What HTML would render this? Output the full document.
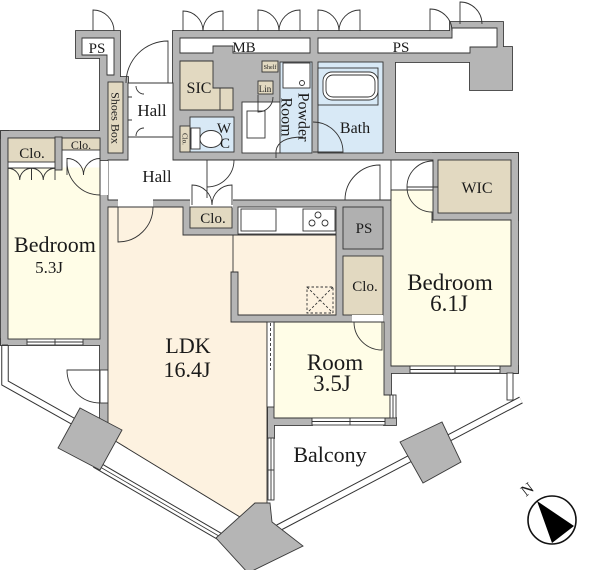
<!DOCTYPE html>
<html><head><meta charset="utf-8">
<style>
html,body{margin:0;padding:0;background:#fff;}
svg{display:block;}
text{font-family:"Liberation Serif",serif;fill:#1a1a1a;}
</style></head><body>
<svg width="600" height="570" viewBox="0 0 600 570" xmlns="http://www.w3.org/2000/svg">
<defs>
<g id="walls">
 <polygon points="76,31 120,31 120,77 128,77 128,160 100,160 100,58 76,58"/>
 <rect x="1" y="131" width="107" height="7"/>
 <rect x="1" y="131" width="7" height="214"/>
 <rect x="1" y="339" width="107" height="6"/>
 <rect x="100" y="195" width="8" height="227"/>
 <polygon points="173,31 450,31 450,22 503,22 503,47 512,47 512,90 470,90 470,62 395,62 395,153 518,153 518,160 173,160"/>
 <rect x="511" y="153" width="7" height="220"/>
 <rect x="383" y="366" width="135" height="7"/>
 <rect x="433" y="153" width="85" height="67"/>
 <rect x="100" y="200" width="291" height="7"/>
 <rect x="383" y="198" width="8" height="197"/>
 <rect x="336" y="200" width="55" height="122"/>
 <rect x="183" y="200" width="55" height="35"/>
 <rect x="231" y="272" width="7" height="50"/>
 <rect x="231" y="315" width="112" height="7"/>
 <rect x="268" y="407" width="6" height="31"/>
 <rect x="268" y="418" width="44" height="7"/>
 <rect x="384" y="418" width="12" height="7"/>
</g>
</defs>

<g fill="none" stroke-linecap="butt">
 <polyline points="5,345 5,383 78,424" stroke="#333" stroke-width="7.5"/>
 <polyline points="5,345 5,383 78,424" stroke="#fff" stroke-width="5.5"/>
 <line x1="95" y1="464" x2="224" y2="539" stroke="#333" stroke-width="8"/>
 <line x1="95" y1="464" x2="224" y2="539" stroke="#fff" stroke-width="6"/>
 <line x1="95" y1="464" x2="224" y2="539" stroke="#333" stroke-width="0.8"/>
 <line x1="278" y1="528" x2="521" y2="400" stroke="#333" stroke-width="7.5"/>
 <line x1="278" y1="528" x2="521" y2="400" stroke="#fff" stroke-width="5.5"/>
 <line x1="117" y1="442" x2="240" y2="517" stroke="#333" stroke-width="0.9"/>
</g>

<use href="#walls" fill="#b5b5b5" stroke="#3a3a3a" stroke-width="1.8"/>
<use href="#walls" fill="#b5b5b5" stroke="none"/>

<g stroke="#333" stroke-width="0.9">
 <polygon points="82,38 114,38 114,75 107,75 107,55 82,55" fill="#fff"/>
 <rect x="108" y="82" width="15" height="71" fill="#e2d9c1"/>
 <polygon points="128,83 173,83 173,160 433,160 433,190 391,190 391,200 108,200 108,160 128,160" fill="#fff"/>
 <rect x="100" y="161" width="8" height="34" fill="#fff" stroke="none"/>
 <rect x="118" y="199" width="35" height="9" fill="#fff" stroke="none"/>
 <rect x="190" y="199" width="43" height="9" fill="#fff" stroke="none"/>
 <rect x="100" y="370" width="8" height="33" fill="#fff"/>
 <polygon points="180,38 310,38 310,53 233,53 233,46 213,46 213,53 180,53" fill="#fff"/>
 <polygon points="318,38 452,38 452,28 497,28 497,47 470,47 470,53 318,53" fill="#fff"/>
 <polygon points="180,61 213,61 213,88 233,88 233,110 180,110" fill="#e2d9c1"/>
 <line x1="220" y1="88" x2="220" y2="110"/>
 <rect x="190" y="117" width="44" height="35" fill="#d8e9f6"/>
 <rect x="180" y="126" width="10" height="26" fill="#e2d9c1"/>
 <rect x="191" y="128" width="9" height="21" fill="#fff"/>
 <ellipse cx="211" cy="139" rx="11" ry="8.5" fill="#fff"/>
 <rect x="242" y="102" width="38" height="51" fill="#fff"/>
 <rect x="247" y="111" width="18" height="27" fill="#fff"/>
 <rect x="280" y="62" width="32" height="91" fill="#d8e9f6"/>
 <rect x="283" y="63" width="27" height="25" fill="#fff"/>
 <circle cx="302" cy="83" r="2.5" fill="#fff"/>
 <rect x="262" y="61" width="16" height="11" fill="#e2d9c1"/>
 <rect x="258" y="81" width="15" height="13" fill="#e2d9c1"/>
 <rect x="318" y="62" width="65" height="91" fill="#d8e9f6"/>
 <rect x="318" y="68" width="60" height="37" fill="#d8e9f6"/>
 <rect x="323" y="72" width="55" height="28" rx="9" fill="#fff"/>
 <rect x="326" y="75" width="49" height="22" rx="7" fill="#fff"/>
 <rect x="438" y="160" width="73" height="53" fill="#e2d9c1"/>
 <polygon points="391,190 433,190 433,220 511,220 511,366 391,366" fill="#fffde7"/>
 <line x1="391" y1="160" x2="391" y2="200"/>
 <rect x="8" y="138" width="92" height="201" fill="#fffde7"/>
 <rect x="8.5" y="138.5" width="91" height="29" fill="#fff" stroke="none"/>
 <rect x="8" y="138" width="47" height="24" fill="#e2d9c1"/>
 <rect x="62" y="138" width="38" height="12" fill="#e2d9c1"/>
 <rect x="55" y="137" width="7" height="33" fill="#b5b5b5"/>
 <line x1="8" y1="168" x2="55" y2="168"/>
 <polygon points="108,207 183,207 183,235 336,235 336,315 238,315 238,272 231,272 231,322 267,322 267,503 255,503 240,517 117,442 108,437" fill="#fdf2e0"/>
 <line x1="233" y1="235" x2="233" y2="272"/>
 <rect x="238" y="207" width="98" height="27" fill="#fff"/>
 <rect x="241" y="209" width="35" height="22" fill="#fff"/>
 <rect x="303" y="209" width="32" height="22" fill="#fff"/>
 <circle cx="318" cy="215" r="3" fill="#fff"/>
 <circle cx="312" cy="223" r="3" fill="#fff"/>
 <circle cx="325" cy="223" r="3" fill="#fff"/>
 <rect x="307" y="287" width="26" height="26" fill="none" stroke-dasharray="2.5,2"/>
 <path d="M307,287 L333,313 M333,287 L307,313" fill="none" stroke-dasharray="2.5,2"/>
 <rect x="190" y="207" width="42" height="21" fill="#e2d9c1"/>
 <rect x="343" y="207" width="40" height="42" fill="#b0b0b0"/>
 <rect x="343" y="256" width="40" height="59" fill="#e2d9c1"/>
 <rect x="352" y="315" width="31" height="7" fill="#fff" stroke="none"/>
 <polygon points="274,322 384,322 384,395 390,395 390,418 274,418" fill="#fffde7"/>
</g>

<g stroke="#333" stroke-width="0.9" fill="#fff">
 <rect x="27" y="339" width="56" height="6"/><line x1="27" y1="342" x2="83" y2="342"/><line x1="55" y1="339" x2="55" y2="345"/>
 <rect x="410" y="366" width="90" height="7"/><line x1="410" y1="369.5" x2="500" y2="369.5"/><line x1="455" y1="366" x2="455" y2="373"/>
 <rect x="312" y="418" width="73" height="7"/><line x1="312" y1="421.5" x2="385" y2="421.5"/><line x1="350" y1="418" x2="350" y2="425"/>
 <rect x="390" y="395" width="6" height="23"/><line x1="393" y1="395" x2="393" y2="418"/>
 <rect x="268" y="438" width="6" height="62"/><line x1="271" y1="438" x2="271" y2="500"/><line x1="268" y1="470" x2="274" y2="470"/>
 <rect x="507" y="373" width="6" height="27"/>
 <rect x="267" y="322" width="7" height="85"/>
 <line x1="270.5" y1="323" x2="270.5" y2="370" stroke-dasharray="3,2"/>
 <line x1="2" y1="345" x2="8" y2="345"/>
</g>

<g stroke="#333" stroke-width="0.9" fill="none">
 <path d="M93,31 V10 A21,21 0 0,1 114,31"/>
 <path d="M168,83 V41 A42,42 0 0,0 126,83"/>
 <line x1="128" y1="137" x2="173" y2="137"/>
 <path d="M128,97 h4 M128,120 h4 M136,86 a8,8 0 0,0 8,8 M136,136 a8,8 0 0,1 8,-8"/>
 <path d="M183,31 V11 A20,20 0 0,1 203,31 M223,31 V11 A20,20 0 0,0 203,31"/>
 <path d="M258,31 V10 A21,21 0 0,1 279,31 M300,31 V10 A21,21 0 0,0 279,31"/>
 <path d="M318,31 V10 A21,21 0 0,1 339,31 M360,31 V10 A21,21 0 0,0 339,31"/>
 <path d="M430,31 V9 A22,22 0 0,1 452,31"/>
 <path d="M460,24 V2 A22,22 0 0,1 482,24"/>
 <path d="M118,207 V242 A35,35 0 0,0 153,207"/>
 <path d="M207,160 V198 M207,187 A27,27 0 0,0 234,160"/>
 <path d="M192,205 V185 A20,20 0 0,1 212,205 M232,205 V185 A20,20 0 0,0 212,205"/>
 <path d="M67,175 V158.5 A16.5,16.5 0 0,1 83.5,175 M100,175 V158.5 A16.5,16.5 0 0,0 83.5,175"/>
 <path d="M8,180 V168.25 A11.75,11.75 0 0,1 19.75,180 M31.5,180 V168.25 A11.75,11.75 0 0,0 19.75,180"/>
 <path d="M31.5,180 V168.25 A11.75,11.75 0 0,1 43.25,180 M55,180 V168.25 A11.75,11.75 0 0,0 43.25,180"/>
 <path d="M100,162 V195 A33,33 0 0,1 67,162"/>
 <path d="M100,370 H67 A33,33 0 0,0 100,403"/>
 <path d="M380,200 V165 A35,35 0 0,0 345,200"/>
 <path d="M407,187 H438 M407,187 A25,25 0 0,0 432,212 V223 M433,161 A26,26 0 0,0 407,187"/>
 <path d="M382,322 V350 A28,28 0 0,1 354,322"/>
 <path d="M313,152 H343 A30,30 0 0,0 313,122"/>
 <path d="M276,158 V151 Q278,137 303,137"/>
 <path d="M258,95 V112 A15,15 0 0,0 273,97"/>
</g>

<g fill="#b5b5b5" stroke="#3a3a3a" stroke-width="0.9">
 <polygon points="58,448 80,408 122,430 100,470"/>
 <polygon points="400,442 442,422 461,462 423,483"/>
 <polygon points="216,538 255,503 270,503 272,522 303,546 248,573"/>
</g>

<g text-anchor="middle">
 <text x="97" y="53" font-size="15">PS</text>
 <text x="244" y="52" font-size="15">MB</text>
 <text x="401" y="52" font-size="15">PS</text>
 <text x="199" y="93" font-size="16">SIC</text>
 <text x="270" y="69" font-size="6">Shelf</text>
 <text x="265" y="92" font-size="9">Lin</text>
 <text transform="translate(115.5,118) rotate(90)" dy="0.35em" font-size="12">Shoes Box</text>
 <text x="152" y="116" font-size="17">Hall</text>
 <text x="224" y="133" font-size="15">W</text>
 <text x="225" y="148" font-size="15">C</text>
 <text transform="translate(185,139) rotate(90)" dy="0.35em" font-size="7">Clo.</text>
 <text transform="translate(304,117) rotate(90)" dy="0.35em" font-size="16">Powder</text>
 <text transform="translate(287,117) rotate(90)" dy="0.35em" font-size="16">Room</text>
 <text x="355" y="133" font-size="16">Bath</text>
 <text x="157" y="182" font-size="17">Hall</text>
 <text x="32" y="158" font-size="15">Clo.</text>
 <text x="81" y="149" font-size="12">Clo.</text>
 <text x="213" y="223" font-size="15">Clo.</text>
 <text x="364" y="233" font-size="15">PS</text>
 <text x="365" y="291" font-size="15">Clo.</text>
 <text x="477" y="193" font-size="16">WIC</text>
 <text x="55" y="252" font-size="22">Bedroom</text>
 <text x="49" y="273" font-size="17">5.3J</text>
 <text x="188" y="353" font-size="22">LDK</text>
 <text x="187" y="377" font-size="22">16.4J</text>
 <text x="450" y="290" font-size="23">Bedroom</text>
 <text x="449" y="311" font-size="23">6.1J</text>
 <text x="335" y="370" font-size="23">Room</text>
 <text x="332" y="391" font-size="23">3.5J</text>
 <text x="330" y="462" font-size="22">Balcony</text>
 <text transform="translate(527,489) rotate(-38)" dy="0.35em" font-size="16">N</text>
</g>

<circle cx="552" cy="520" r="24" fill="#fff" stroke="#111" stroke-width="1.6"/>
<polygon points="537,501 574,526 552,543" fill="#000"/>
</svg>
</body></html>
